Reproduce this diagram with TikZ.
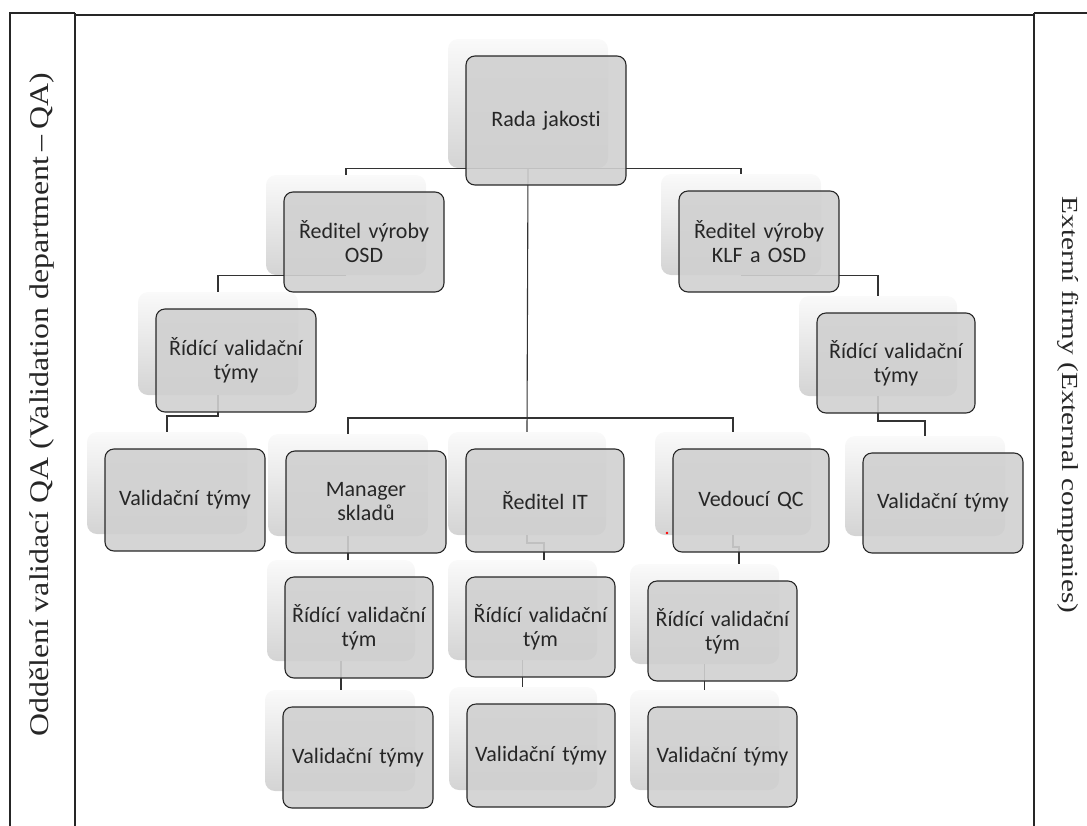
\documentclass[tikz,border=0pt]{standalone}
\usepackage{fontspec}
\setmainfont{Liberation Serif}
\newfontfamily\sidefont{Liberation Serif}
\newfontfamily\boxfont[Ligatures=NoCommon]{Carlito}
\usetikzlibrary{calc}
\definecolor{boxgray}{RGB}{208,208,208}
\definecolor{edgecol}{RGB}{40,40,40}
\tikzset{
  shadowbox/.style={rounded corners=10pt, top color=black!2, bottom color=black!17, draw=none, inner sep=0pt},
  frontbox/.style={rounded corners=9pt, draw=edgecol, line width=1.1pt, fill=boxgray, fill opacity=0.9, text opacity=1, text=black!85, align=center, inner sep=2pt, font=\boxfont\fontsize{22}{24}\selectfont},
  conn/.style={draw=black!80, line width=1.1pt},
  frameline/.style={line width=1.2pt, draw=black!85},
  sidelabel/.style={inner sep=0pt, text=black!85},
}
\newcommand\shadowat[5]{\node[shadowbox, minimum width=#4pt, minimum height=#5pt] (s-#1) at (#2-18,#3-17) {};}
\newcommand\frontat[6]{\node[frontbox, minimum width=#4pt, minimum height=#5pt, text width=#4pt-8pt] (#1) at (#2,#3) {#6};}
\begin{document}
\begin{tikzpicture}[x=1pt,y=-1pt]
\useasboundingbox (0,0) rectangle (1087,825);
% frame
\draw[frameline] (10,830) -- (10,13) -- (75,13);
\draw[line width=2pt, draw=black!85] (75,13) -- (75,830);
\draw[frameline] (75,15) -- (1034,15);
\draw[line width=1.6pt, draw=black!85] (1034,13) -- (1034,830);
\draw[frameline] (1034,13) -- (1090,13);
\node[sidelabel, rotate=90, font=\sidefont\fontsize{27}{27}\selectfont] (leftlab) at (42,405) {\scalebox{1.18}[1]{Oddělení validací QA (Validation department\,–\,QA)}};
\node[sidelabel, rotate=-90, font=\sidefont\fontsize{23}{23}\selectfont] (rightlab) at (1068,405) {\scalebox{1.27}[1]{Externí firmy (External companies)}};
% shadows
\shadowat{rada}{546}{120.5}{160}{129}
\shadowat{osd}{364}{242}{160}{100}
\shadowat{klf}{759}{241.5}{160}{101}
\shadowat{rvL}{236}{360.5}{160}{103}
\shadowat{rvR}{896}{363}{158}{100}
\shadowat{vL}{185}{500}{160}{102}
\shadowat{man}{366}{502}{160}{102}
\shadowat{it}{545}{500.5}{158}{103}
\shadowat{qc}{751}{500.5}{156}{103}
\shadowat{vR}{943}{503}{160}{100}
\shadowat{rtM}{359}{627.5}{148}{101}
\shadowat{rtI}{540.5}{627}{149}{100}
\shadowat{rtQ}{722.5}{631}{149}{100}
\shadowat{vM}{358}{757.5}{150}{101}
\shadowat{vI}{541}{755.5}{148}{103}
\shadowat{vQ}{722.5}{757}{149}{100}
% connectors
\coordinate (busM) at (0,418);
\coordinate (jL) at (0,416);
\coordinate (jR) at (0,421);
\coordinate (jI) at (544,543);
\coordinate (jQ) at (739,547);
\draw[conn] (s-rada.south) -| (s-osd.north);
\draw[conn] (s-rada.south) -| (s-klf.north);
\draw[conn] (s-rada.south) -- (s-it.north);
\draw[conn] (s-man.north) -- (s-man.north |- busM) -- (s-qc.north |- busM) -- (s-qc.north);
\draw[conn] (s-osd.south) -| (s-rvL.north);
\draw[conn] (s-rvL.south) -- (s-rvL.south |- jL) -| (s-vL.north);
\draw[conn] (s-klf.south) -| (s-rvR.north);
\draw[conn] (s-rvR.south) -- (s-rvR.south |- jR) -| (s-vR.north);
\draw[conn] (s-man.south) -- (s-man.south |- s-rtM.north);
\draw[conn] (s-it.south) |- (jI) -- (jI |- s-rtI.north);
\draw[conn] (s-qc.south) |- (jQ) -- (jQ |- s-rtQ.north);
\draw[conn] (s-rtM.south) -- (s-rtM.south |- s-vM.north);
\draw[conn] (s-rtI.south) -- (s-rtI.south |- s-vI.north);
\draw[conn] (s-rtQ.south) -- (s-rtQ.south |- s-vQ.north);
% front boxes
\frontat{rada}{546}{120.5}{160}{129}{Rada jakosti}
\frontat{osd}{364}{242}{160}{100}{Ředitel výroby\\OSD}
\frontat{klf}{759}{241.5}{160}{101}{Ředitel výroby\\KLF a OSD}
\frontat{rvL}{236}{360.5}{160}{103}{Řídící validační\\týmy}
\frontat{rvR}{896}{363}{158}{100}{Řídící validační\\týmy}
\frontat{vL}{185}{500}{160}{102}{Validační týmy}
\frontat{man}{366}{502}{160}{102}{Manager\\skladů}
\frontat{it}{545}{500.5}{158}{103}{Ředitel IT}
\frontat{qc}{751}{500.5}{156}{103}{Vedoucí QC}
\frontat{vR}{943}{503}{160}{100}{Validační týmy}
\frontat{rtM}{359}{627.5}{148}{101}{Řídící validační\\tým}
\frontat{rtI}{540.5}{627}{149}{100}{Řídící validační\\tým}
\frontat{rtQ}{722.5}{631}{149}{100}{Řídící validační\\tým}
\frontat{vM}{358}{757.5}{150}{101}{Validační týmy}
\frontat{vI}{541}{755.5}{148}{103}{Validační týmy}
\frontat{vQ}{722.5}{757}{149}{100}{Validační týmy}
\fill[red] (667,533) circle (1.3);
\end{tikzpicture}
\end{document}
